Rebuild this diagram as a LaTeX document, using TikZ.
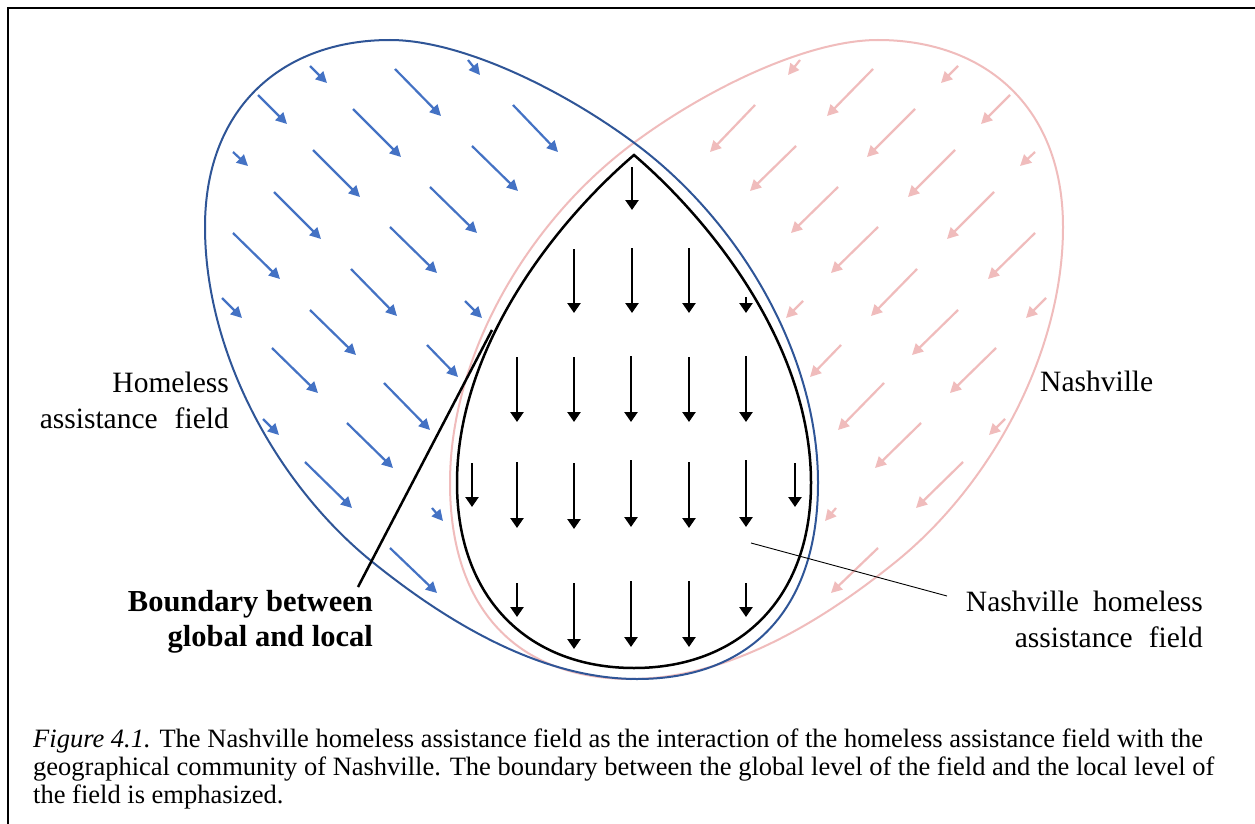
\documentclass[tikz,border=0pt]{standalone}
\usepackage{fontspec}
\setmainfont{Liberation Serif}
\usetikzlibrary{arrows.meta}

\definecolor{fieldblue}{RGB}{47,85,151}
\definecolor{arrowblue}{RGB}{68,114,196}
\definecolor{citypink}{RGB}{240,188,188}

\begin{document}
\begin{tikzpicture}[x=1pt,y=-1pt,
  bluearrow/.style={arrowblue, line width=2.2pt, -{Triangle[length=11pt,width=11pt]}},
  pinkarrow/.style={citypink, line width=2.2pt, -{Triangle[length=11pt,width=11pt]}},
  localarrow/.style={black, line width=2.5pt, -{Triangle[length=10pt,width=13pt]}},
  outline/.style={line width=2pt},
  lbl/.style={font=\fontsize{29.5}{36}\selectfont, inner sep=0pt},
  boldlbl/.style={font=\fontsize{30.5}{36}\selectfont\bfseries, inner sep=0pt},
  captext/.style={font=\fontsize{26.5}{29}\selectfont, inner sep=0pt, anchor=base west}]

\useasboundingbox (0,0) rectangle (1255,824);
\fill[white] (0,0) rectangle (1255,824);

% frame
\draw[line width=2.5pt, line join=miter] (8,824) -- (8,8) -- (1255,8);

% field arrows: the global field (blue) and its mirror image, the city (pink)
\foreach \a/\b/\c/\d in {
  310/66/327/83, 395/69/441/116, 468/60/480/75, 513/105/558/152,
  258/95/287/124, 353/109/401/157, 472/146/518/191, 233/152/248/166,
  313/150/360/197, 430/187/477/233, 274/192/321/239, 390/227/437/273,
  233/233/280/279, 351/269/397/316, 222/298/242/318, 465/301/482/318,
  310/310/356/355, 427/345/458/377, 272/348/318/393, 384/383/430/430,
  263/419/279/435, 347/423/393/468, 305/462/352/508, 432/508/443/521,
  390/548/437/593}
{
  \draw[bluearrow] (\a,\b) -- (\c,\d);
  \draw[pinkarrow] ({1268-\a},\b) -- ({1268-\c},\d);
}

% the two overlapping regions: Nashville (mirrored, pink) and the field (blue)
\foreach \sx/\sh/\col in {-1/1268/citypink, 1/0/fieldblue}
{
  \begin{scope}[xshift=\sh pt, xscale=\sx]
    \draw[\col, outline] (390,40) .. controls (460,40) and (560,88) .. (633,142)
      .. controls (738,219) and (818,353) .. (818,483)
      .. controls (818,610) and (750,679) .. (637,679)
      .. controls (540,679) and (445,621) .. (370,560)
      .. controls (275,482) and (205,351) .. (205,227)
      .. controls (205,105) and (285,40) .. cycle;
  \end{scope}
}

% local field: teardrop
\draw[black, line width=2.5pt, line join=miter]
  (634,155) .. controls (558,220) and (457,345) .. (457,483)
  .. controls (457,600) and (530,668) .. (634,668)
  .. controls (738,668) and (811,600) .. (811,483)
  .. controls (811,345) and (710,220) .. cycle;

% local field arrows
\foreach \x/\t/\b in {
  632/167/210,
  574/249/313, 632/248/313, 689/248/313, 746/297/313,
  517/357/422, 574/357/422, 631/356/422, 689/357/422, 746/356/422,
  472/463/507, 517/462/528, 574/463/529, 631/460/527, 689/462/528, 746/460/527, 795/463/507,
  517/583/617, 574/583/649, 631/581/647, 689/581/647, 746/583/617}
{
  \draw[localarrow] (\x,\t) -- (\x,\b);
}

% labels
\node[lbl, anchor=base east] (hafA) at (229,392) {Homeless};
\node[lbl, anchor=base east] (hafB) at (229,428) {assistance\hspace{17pt}field};
\node[lbl, anchor=base west] (nash) at (1040,391) {Nashville};
\node[lbl, anchor=base east] (nhaA) at (1203,611) {Nashville\hspace{14pt}homeless};
\node[lbl, anchor=base east] (nhaB) at (1203,647) {assistance\hspace{16pt}field};
\node[boldlbl, anchor=base east] (bglA) at (373,611) {Boundary between};
\node[boldlbl, anchor=base east] (bglB) at (373,646) {global and local};

% leader lines
\coordinate (bndTop) at (492,330);
\coordinate (bndFoot) at (358,587);
\draw[line width=2.5pt] (bndFoot) -- (bndTop);
\coordinate (nhaIn) at (751,543);
\coordinate (nhaOut) at (947,596);
\draw[line width=0.9pt] (nhaIn) -- (nhaOut);

% caption
\node[captext] (capA) at (33,747) {\textit{Figure 4.1.} The Nashville homeless assistance field as the interaction of the homeless assistance field with the};
\node[captext] (capB) at (33,775) {geographical community of Nashville. The boundary between the global level of the field and the local level of};
\node[captext] (capC) at (33,803) {the field is emphasized.};
\end{tikzpicture}
\end{document}
